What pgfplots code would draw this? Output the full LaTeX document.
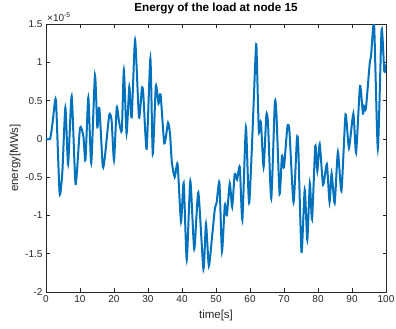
\documentclass[border=0pt]{standalone}
\usepackage{pgfplots}
\pgfplotsset{compat=1.18}
\usepackage{fontspec}
\setmainfont{Liberation Sans}
\definecolor{mblue}{RGB}{0,114,189}
\definecolor{axgray}{RGB}{38,38,38}
\begin{document}
\begin{tikzpicture}
\useasboundingbox (-46pt,-37pt) rectangle (350pt,292pt);
\begin{axis}[
  name=ax,
  at={(0,0)}, anchor=south west,
  scale only axis, width=340pt, height=268pt,
  xmin=0, xmax=100, ymin=-2, ymax=1.5,
  xtick={0,10,...,100},
  ytick={-2,-1.5,-1,-0.5,0,0.5,1,1.5},
  yticklabels={-2,-1.5,-1,-0.5,0,0.5,1,1.5},
  tick align=inside,
  axis line style={axgray, line width=0.5pt},
  tick style={axgray, line width=0.5pt},
  major tick length=3.5pt,
  ticklabel style={font=\fontsize{10}{12}\selectfont, text=axgray},
  /pgf/number format/assume math mode=true,
  title={\textbf{Energy of the load at node 15}},
  title style={font=\fontsize{11.7}{13}\selectfont, at={(axis description cs:0.5,1)}, anchor=base, yshift=7pt},
  xlabel={time[s]}, ylabel={energy[MWs]},
  xlabel style={font=\fontsize{11.5}{13}\selectfont, text=axgray, at={(axis description cs:0.5,-0.0896)}, anchor=center},
  ylabel style={font=\fontsize{11.5}{13}\selectfont, text=axgray, at={(axis description cs:-0.091,0.5)}, anchor=center},
]
\addplot[mblue, line width=2pt, smooth, tension=0.35] table {
x y
0 0
1.2 0
1.9 0.2
2.65 0.49
3.0 0.45
4.0 -0.71
4.8 -0.44
5.7 0.41
6.5 -0.33
7.55 0.56
8.7 -0.59
10.0 0.14
11.0 0.03
11.6 -0.28
12.45 0.54
13.3 -0.32
14.4 0.83
15.1 0.15
15.7 0.4
16.7 -0.36
17.35 -0.22
18.6 0.31
19.3 0.24
20.0 -0.28
20.8 0.41
21.5 0.22
22.3 0.11
22.9 0.90
23.7 0.07
24.5 0.68
25.2 0.28
26.2 1.29
27.35 0.28
28.2 0.66
28.6 0.6
29.6 -0.13
30.7 1.05
31.4 -0.2
32.3 0.69
33.1 0.46
33.7 0.58
34.8 -0.06
35.9 0.21
36.5 0.05
37.0 -0.3
37.85 -0.5
38.7 -0.33
39.7 -1.08
40.5 -0.58
41.4 -1.58
42.45 -0.55
43.6 -1.44
44.8 -0.70
46.3 -1.70
47.05 -1.11
47.9 -1.66
48.9 -1.25
49.7 -0.9
50.2 -0.83
51.0 -0.57
51.75 -1.47
52.6 -0.86
53.2 -1.0
54.05 -0.58
54.75 -0.89
55.5 -0.46
56.2 -0.53
57.0 -0.37
57.75 -1.06
58.8 0.15
59.8 -0.83
61.7 1.16
62.0 1.05
62.6 0.1
63.2 0.22
64.0 -0.37
64.8 0.31
65.3 0.2
66.25 -0.78
67.3 0.47
67.8 0.3
68.7 -0.72
69.4 -0.22
70.0 -0.37
71.0 0.16
71.6 0.1
72.8 -0.83
73.8 0.0
74.2 -0.1
75.15 -1.48
76.1 -0.66
76.85 -1.32
77.6 -0.58
78.25 -1.05
79.2 -0.09
79.8 -0.42
80.5 -0.07
81.5 -0.6
82.6 -0.33
83.4 -0.83
84.0 -0.45
84.9 -0.84
85.85 -0.17
86.9 -0.68
88.1 0.32
89.1 -0.12
90.4 0.33
91.2 -0.18
92.35 0.69
93.2 0.33
93.6 0.42
94.1 0.4
95.2 0.98
95.6 1.08
96.5 1.49
97.6 -0.13
98.7 1.43
99.5 0.88
100 0.97
};
\end{axis}
\node[anchor=base west, inner sep=0pt, font=\fontsize{10}{12}\selectfont, text=axgray] at ([xshift=1pt,yshift=3pt]ax.north west) {×10\textsuperscript{-5}};
\end{tikzpicture}
\end{document}
